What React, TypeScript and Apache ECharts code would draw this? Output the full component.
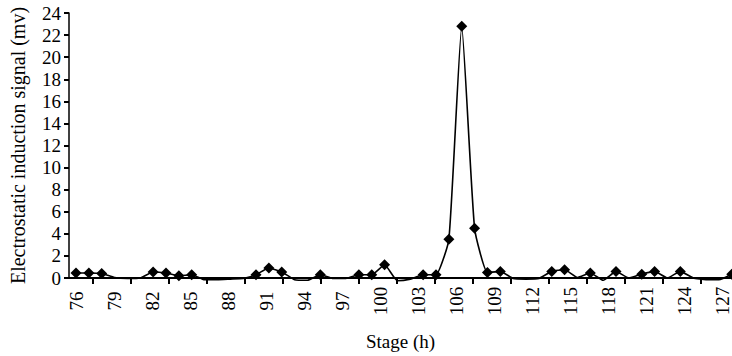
import React, { useEffect, useRef } from "react";
import * as echarts from "echarts";

// Stage (h) of each reading
const hours = [
  76, 77, 78, 79, 80, 81, 82, 83, 84, 85, 86, 87, 88, 89, 90, 91, 92, 93, 94, 95,
  96, 97, 98, 99, 100, 101, 102, 103, 104, 105, 106, 107, 108, 109, 110, 111, 112,
  113, 114, 115, 116, 117, 118, 119, 120, 121, 122, 123, 124, 125, 126, 127,
];
// Electrostatic induction signal (mv)
const signal = [
  0.45, 0.45, 0.4, 0.05, -0.05, 0.0, 0.55, 0.45, 0.2, 0.3, -0.15, -0.15, -0.1, -0.05, 0.3, 0.9, 0.55, -0.15, -0.2, 0.3,
  -0.05, -0.05, 0.3, 0.3, 1.2, -0.25, -0.1, 0.3, 0.3, 3.5, 22.8, 4.5, 0.5, 0.6, -0.05, -0.1, -0.05,
  0.6, 0.75, 0.05, 0.45, -0.2, 0.6, 0.0, 0.35, 0.6, 0.0, 0.6, 0.0, -0.15, -0.15, 0.35,
];
// readings drawn with a diamond marker
const markedHours = [
  76, 77, 78, 82, 83, 84, 85, 90, 91, 92, 95, 98, 99, 100, 103, 104, 105, 106, 107,
  108, 109, 113, 114, 116, 118, 120, 121, 123, 127,
];
// x-axis tick labels
const xLabels = [76, 79, 82, 85, 88, 91, 94, 97, 100, 103, 106, 109, 112, 115, 118, 121, 124, 127];
const xTickOffset = 1.3;

const FONT = '"Liberation Serif", "Times New Roman", serif';

export default function App() {
  const ref = useRef<HTMLDivElement>(null);

  useEffect(() => {
    document.body.style.margin = "0";
    if (!ref.current) return;
    const chart = echarts.init(ref.current, null, { renderer: "svg" });

    const data = hours.map((h, i) => ({
      value: [h, signal[i]],
      symbol: markedHours.includes(h) ? "diamond" : "none",
    }));

    chart.setOption({
      animation: false,
      backgroundColor: "#ffffff",
      grid: { left: 69, right: 0, top: 13, bottom: 76, containLabel: false },
      xAxis: [
        {
          type: "value",
          min: 75.456,
          max: 127.02,
          show: false,
        },
        {
          type: "value",
          position: "bottom",
          min: 75.41,
          max: 127.79,
          name: "Stage (h)",
          nameLocation: "middle",
          nameGap: 54,
          nameTextStyle: { fontFamily: FONT, fontSize: 19, color: "#000" },
          axisLine: { show: true, onZero: false, lineStyle: { color: "#000", width: 2 } },
          axisTick: {
            show: true,
            customValues: xLabels.slice(0, -1).map((v) => v + xTickOffset),
            length: 6,
            lineStyle: { color: "#000", width: 2 },
          },
          axisLabel: {
            customValues: xLabels,
            rotate: 90,
            align: "center",
            verticalAlign: "middle",
            margin: 23,
            fontFamily: FONT,
            fontSize: 19,
            color: "#000",
            formatter: (v: number) => String(v),
          },
          splitLine: { show: false },
        },
      ],
      yAxis: {
        type: "value",
        min: 0,
        max: 24,
        interval: 2,
        name: "Electrostatic induction signal (mv)",
        nameLocation: "middle",
        nameGap: 41,
        nameTextStyle: { fontFamily: FONT, fontSize: 20, color: "#000" },
        axisLine: { show: true, lineStyle: { color: "#000", width: 1.5 } },
        axisTick: { show: true, length: 5, lineStyle: { color: "#000", width: 2 } },
        axisLabel: { margin: 8, fontFamily: FONT, fontSize: 19, color: "#000" },
        splitLine: { show: false },
      },
      series: [
        {
          type: "line",
          xAxisIndex: 0,
          yAxisIndex: 0,
          data,
          smooth: 0.15,
          clip: false,
          showAllSymbol: true,
          symbolSize: 11,
          lineStyle: { color: "#000", width: 1.6 },
          itemStyle: { color: "#000" },
        },
      ],
    });

    return () => chart.dispose();
  }, []);

  return <div ref={ref} style={{ width: 732, height: 356 }} />;
}
